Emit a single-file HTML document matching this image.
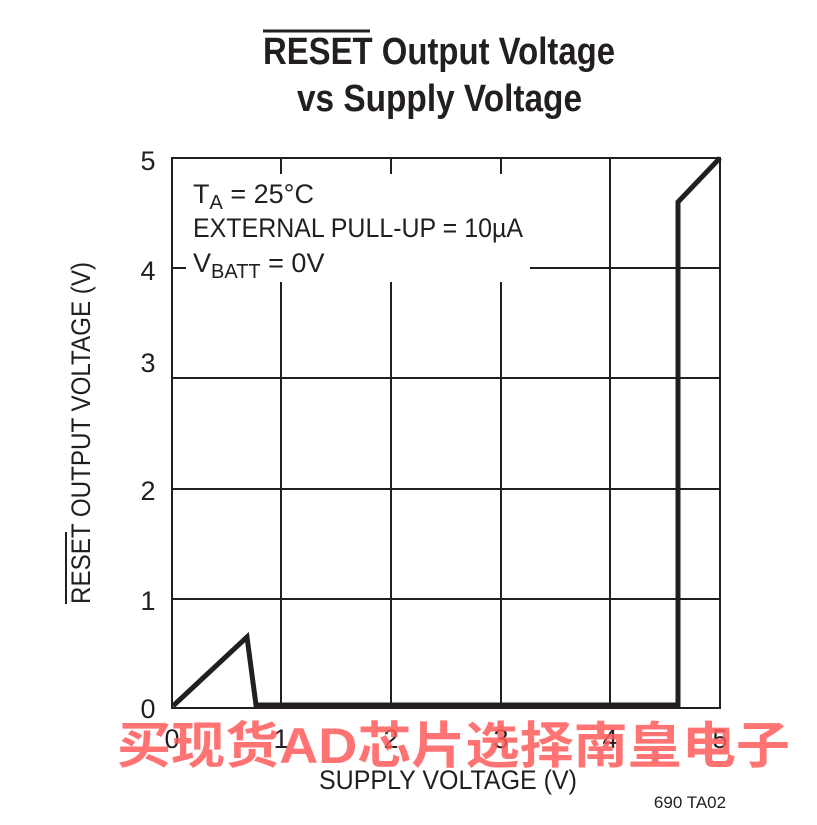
<!DOCTYPE html>
<html><head><meta charset="utf-8"><style>html,body{margin:0;padding:0;background:#fff}svg{display:block}</style></head>
<body>
<svg width="817" height="825" viewBox="0 0 817 825" xmlns="http://www.w3.org/2000/svg" font-family="'Liberation Sans Narrow','Liberation Sans',sans-serif" fill="#231f20">
<g font-weight="bold" font-size="38">
<text x="263" y="64" textLength="352" lengthAdjust="spacingAndGlyphs">RESET Output Voltage</text>
<text x="297" y="111" textLength="285" lengthAdjust="spacingAndGlyphs">vs Supply Voltage</text>
</g>
<line x1="263" y1="31" x2="370" y2="31" stroke="#231f20" stroke-width="3"/>
<g stroke="#231f20" stroke-width="2" fill="none">
<rect x="172" y="158" width="548" height="550"/>
<line x1="281" y1="158" x2="281" y2="708"/><line x1="391" y1="158" x2="391" y2="708"/>
<line x1="501" y1="158" x2="501" y2="708"/><line x1="610" y1="158" x2="610" y2="708"/>
<line x1="172" y1="268" x2="720" y2="268"/><line x1="172" y1="378" x2="720" y2="378"/>
<line x1="172" y1="489" x2="720" y2="489"/><line x1="172" y1="599" x2="720" y2="599"/>
</g>
<rect x="186" y="174" width="344" height="108" fill="#fff"/>
<polyline points="173,706 247,637 256,705 678,705 678,202 720,158" fill="none" stroke="#231f20" stroke-width="5" stroke-linejoin="miter"/>
<g font-size="27">
<text x="193" y="203">T<tspan font-size="20" dy="6">A</tspan><tspan dy="-6"> = 25°C</tspan></text>
<text x="193" y="237" textLength="330" lengthAdjust="spacingAndGlyphs">EXTERNAL PULL-UP = 10µA</text>
<text x="193" y="272">V<tspan font-size="20" dy="6">BATT</tspan><tspan dy="-6"> = 0V</tspan></text>
</g>
<g font-size="27" text-anchor="middle">
<text x="148" y="170">5</text><text x="148" y="280">4</text><text x="148" y="372">3</text>
<text x="148" y="500">2</text><text x="148" y="610">1</text><text x="148" y="718">0</text>
<text x="172" y="748">0</text><text x="281" y="748">1</text><text x="391" y="748">2</text>
<text x="501" y="748">3</text><text x="610" y="748">4</text><text x="720" y="748">5</text>
<text x="448" y="789" textLength="258" lengthAdjust="spacingAndGlyphs">SUPPLY VOLTAGE (V)</text>
</g>
<text x="690" y="808" font-size="17" text-anchor="middle">690 TA02</text>
<text transform="translate(90,604) rotate(-90)" font-size="27" textLength="342" lengthAdjust="spacingAndGlyphs">RESET OUTPUT VOLTAGE (V)</text>
<line x1="66" y1="604" x2="66" y2="532" stroke="#231f20" stroke-width="2"/>
<text x="117" y="763" font-size="50" font-weight="bold" fill="#ff5a5a" fill-opacity="0.85" font-family="'Liberation Sans','Noto Sans CJK SC',sans-serif" textLength="673" lengthAdjust="spacingAndGlyphs">买现货AD芯片选择南皇电子</text>
</svg>
</body></html>
